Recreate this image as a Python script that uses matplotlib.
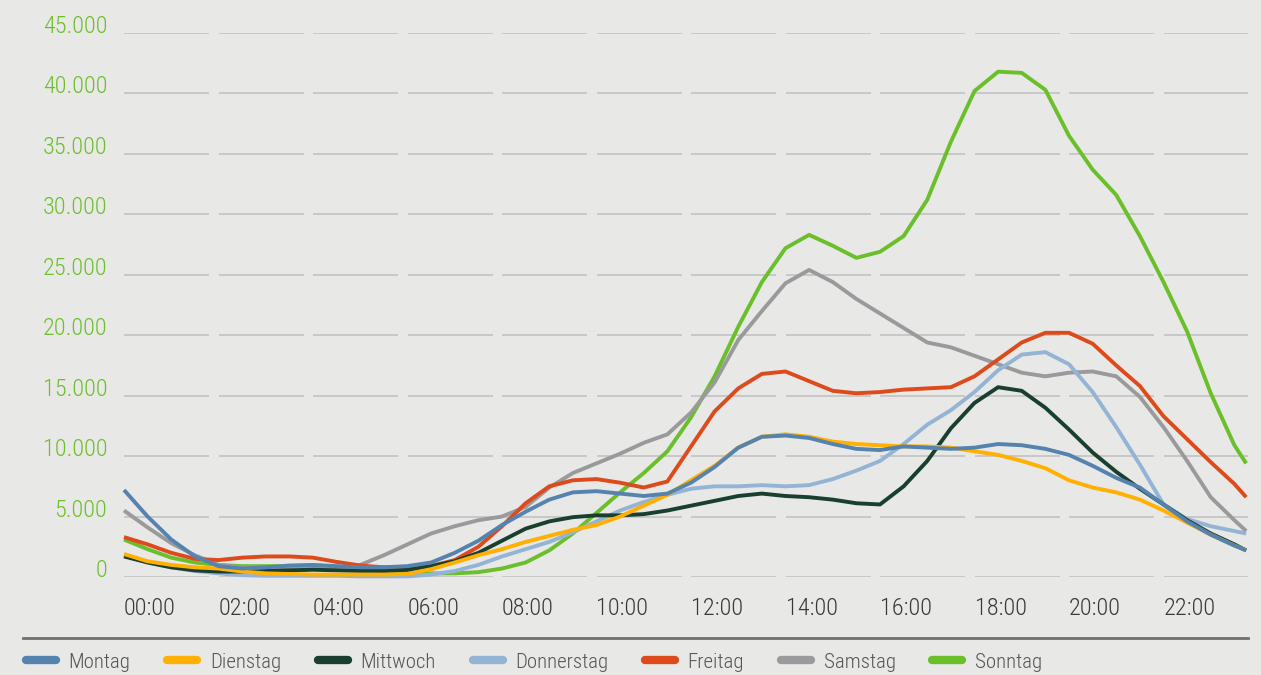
import matplotlib
matplotlib.use("Agg")
import matplotlib.pyplot as plt
from matplotlib.lines import Line2D
from matplotlib import font_manager

# ---------------- data (values in vehicles) ----------------
hours = [0.0, 0.5, 1.0, 1.5, 2.0, 2.5, 3.0, 3.5, 4.0, 4.5, 5.0, 5.5,
         6.0, 6.5, 7.0, 7.5, 8.0, 8.5, 9.0, 9.5, 10.0, 10.5, 11.0, 11.5,
         12.0, 12.5, 13.0, 13.5, 14.0, 14.5, 15.0, 15.5, 16.0, 16.5, 17.0, 17.5,
         18.0, 18.5, 19.0, 19.5, 20.0, 20.5, 21.0, 21.5, 22.0, 22.5, 23.0, 23.5, 23.75]

montag = [7200, 5000, 3100, 1700, 900, 700, 800, 950, 1000, 900, 800, 800,
          900, 1200, 2000, 3000, 4300, 5400, 6400, 7000, 7100, 6900, 6700, 6900,
          7800, 9100, 10700, 11600, 11700, 11500, 11000, 10600, 10500, 10800, 10700, 10600,
          10700, 11000, 10900, 10600, 10100, 9200, 8200, 7400, 6000, 4600, 3500, 2600, 2200]

dienstag = [1900, 1300, 1000, 800, 700, 450, 300, 250, 200, 200, 200, 200,
            250, 650, 1200, 1800, 2300, 2900, 3400, 3900, 4300, 5000, 5900, 6800,
            8000, 9200, 10700, 11600, 11800, 11600, 11200, 11000, 10900, 10800, 10800, 10700,
            10400, 10100, 9600, 9000, 8000, 7400, 7000, 6400, 5500, 4500, 3500, 2600, 2200]

mittwoch = [1700, 1200, 800, 550, 450, 450, 500, 550, 600, 550, 500, 500,
            600, 900, 1300, 2000, 3000, 4000, 4600, 4950, 5100, 5100, 5200, 5500,
            5900, 6300, 6700, 6900, 6700, 6600, 6400, 6100, 6000, 7500, 9600, 12300,
            14400, 15700, 15400, 14000, 12200, 10300, 8700, 7300, 6000, 4700, 3600, 2700, 2200]

donnerstag = [1800, 1200, 800, 500, 300, 150, 100, 100, 100, 100, 50, 50,
              50, 200, 500, 1000, 1700, 2300, 2900, 3700, 4600, 5500, 6200, 6800,
              7300, 7500, 7500, 7600, 7500, 7600, 8100, 8800, 9600, 11000, 12600, 13800,
              15300, 17100, 18400, 18600, 17600, 15300, 12400, 9300, 6000, 4800, 4200, 3800, 3600]

freitag = [3300, 2700, 2000, 1500, 1400, 1600, 1700, 1700, 1600, 1250, 950, 800,
           800, 900, 1400, 2500, 4200, 6100, 7500, 8000, 8100, 7800, 7400, 7900,
           10800, 13700, 15600, 16800, 17000, 16200, 15400, 15200, 15300, 15500, 15600, 15700,
           16600, 18000, 19400, 20200, 20200, 19300, 17500, 15800, 13300, 11400, 9500, 7700, 6600]

samstag = [5500, 4100, 2800, 1800, 1000, 800, 800, 800, 800, 700, 1000, 1800,
           2700, 3600, 4200, 4700, 5000, 5800, 7400, 8600, 9400, 10200, 11100, 11800,
           13600, 16100, 19600, 22000, 24300, 25400, 24400, 23000, 21800, 20600, 19400, 19000,
           18300, 17600, 16900, 16600, 16900, 17000, 16600, 14900, 12400, 9600, 6600, 4700, 3800]

sonntag = [3100, 2300, 1600, 1200, 1000, 900, 900, 900, 850, 800, 700, 500,
           400, 300, 300, 400, 700, 1200, 2200, 3600, 5300, 7000, 8600, 10400,
           13200, 16600, 20700, 24400, 27200, 28300, 27400, 26400, 26900, 28200, 31200, 36000,
           40200, 41800, 41700, 40300, 36500, 33700, 31600, 28200, 24400, 20300, 15200, 10900, 9400]

series_names = ["Montag", "Dienstag", "Mittwoch", "Donnerstag", "Freitag", "Samstag", "Sonntag"]
series_values = [montag, dienstag, mittwoch, donnerstag, freitag, samstag, sonntag]
series_colors = ["#5583b0", "#ffb000", "#193f2e", "#93b4d4", "#dd4a1c", "#9a9a9c", "#6abf2a"]

x_ticks = [0, 2, 4, 6, 8, 10, 12, 14, 16, 18, 20, 22]
x_labels = ["00:00", "02:00", "04:00", "06:00", "08:00", "10:00",
            "12:00", "14:00", "16:00", "18:00", "20:00", "22:00"]
y_ticks = [0, 5000, 10000, 15000, 20000, 25000, 30000, 35000, 40000, 45000]
y_labels = ["0", "5.000", "10.000", "15.000", "20.000", "25.000",
            "30.000", "35.000", "40.000", "45.000"]

# ---------------- fonts ----------------
available = {f.name for f in font_manager.fontManager.ttflist}
font = "DejaVu Sans"
for cand in ["Roboto Condensed", "Archivo Narrow", "PT Sans Narrow",
             "Barlow Semi Condensed", "Fira Sans Condensed", "Liberation Sans Narrow"]:
    if cand in available:
        font = cand
        break
plt.rcParams["font.family"] = [font, "DejaVu Sans"]
plt.rcParams["font.weight"] = 300 if font == "Roboto Condensed" else "normal"

BG = "#e8e8e6"
W, H = 1261, 675
fig = plt.figure(figsize=(W / 100, H / 100), dpi=100, facecolor=BG)

x0, x1 = 124, 1248
y0, y1 = 577, 33
ax = fig.add_axes([x0 / W, (H - y0) / H, (x1 - x0) / W, (y0 - y1) / H])
ax.set_facecolor(BG)
ax.set_xlim(0, (x1 - x0) / 47.25)
ax.set_ylim(0, 45000)
for s in ax.spines.values():
    s.set_visible(False)

# dashed-looking gridlines: one segment per 2-hour block
for yv in y_ticks:
    for xt in x_ticks:
        ax.hlines(yv, xt, xt + 1.8, color="#c2c2c2", lw=1.2, zorder=1)

for name, vals, col in reversed(list(zip(series_names, series_values, series_colors))):
    ax.plot(hours, vals, color=col, lw=2.8, solid_joinstyle="round",
            solid_capstyle="butt", zorder=3, clip_on=False)

ax.set_xticks(x_ticks, x_labels, ha="left", color="#383838", fontsize=17.5)
ax.set_yticks(y_ticks, y_labels, va="baseline", color="#6cbf2c", fontsize=17.5)
ax.tick_params(axis="both", length=0)
ax.tick_params(axis="x", pad=14.5)
ax.tick_params(axis="y", pad=12)

# horizontal rule above legend
fig.add_artist(Line2D([23 / W, 1248 / W], [1 - 638 / H, 1 - 638 / H],
                      color="#6e6e6e", lw=2.0, transform=fig.transFigure))

handles = [Line2D([0], [0], color=c, lw=6, solid_capstyle="round") for c in series_colors]
fig.legend(handles, series_names, loc="center left",
           bbox_to_anchor=(26 / W, 1 - 662 / H), ncol=7, frameon=False,
           fontsize=15, labelcolor="#555555", handlelength=1.45,
           handletextpad=0.6, columnspacing=1.76, borderpad=0, borderaxespad=0)

fig.savefig("out.png", dpi=100, facecolor=BG)
